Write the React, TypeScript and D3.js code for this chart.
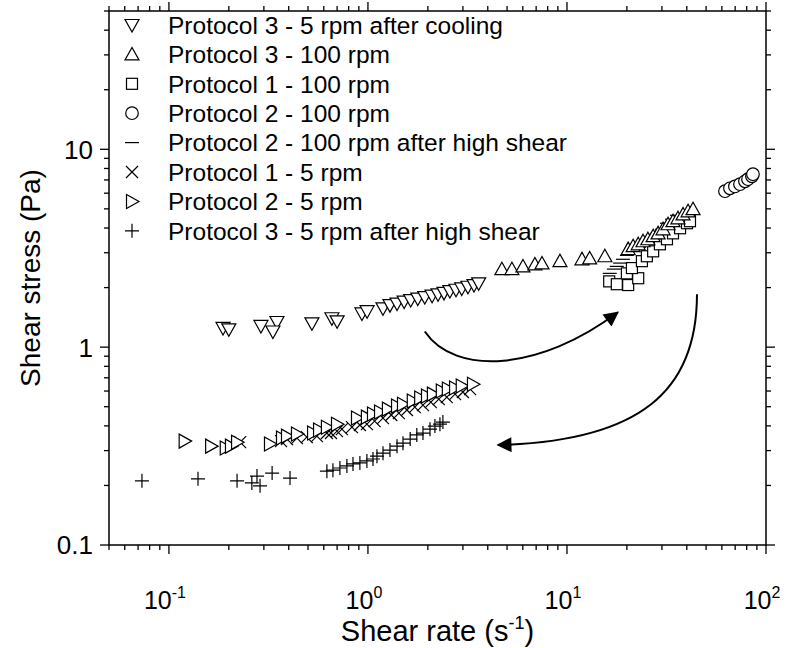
import React from "react";
import * as d3 from "d3";

// ---- data (shear rate [1/s], shear stress [Pa]) ----
const p3CoolX = [0.187, 0.2, 0.29, 0.349, 0.333, 0.523, 0.659, 0.7, 0.933, 0.99, 1.19, 1.29, 1.4, 1.52, 1.64, 1.78, 1.93, 2.1, 2.25, 2.41, 2.58, 2.77, 2.96, 3.18, 3.41, 3.6];
const p3CoolY = [1.25, 1.23, 1.28, 1.34, 1.2, 1.32, 1.4, 1.35, 1.48, 1.52, 1.57, 1.63, 1.66, 1.7, 1.73, 1.76, 1.79, 1.82, 1.85, 1.88, 1.92, 1.95, 1.98, 2.02, 2.06, 2.1];

const p3HighX = [4.71, 5.29, 6.01, 6.9, 7.49, 9.22, 11.9, 13.0, 15.5, 20.3, 21.5, 22.8, 24.1, 25.5, 27.1, 28.7, 30.4, 32.2, 34.1, 36.1, 38.3, 40.6, 43.0];
const p3HighY = [2.48, 2.48, 2.56, 2.62, 2.65, 2.72, 2.78, 2.81, 2.88, 3.13, 3.24, 3.31, 3.43, 3.51, 3.64, 3.76, 3.94, 4.18, 4.33, 4.48, 4.69, 4.86, 4.98];

const p1HighX = [16.3, 17.8, 20.3, 22.8, 20.0, 21.2, 23.8, 25.2, 27.1, 29.3, 31.8, 34.1, 37.0, 40.1, 41.5];
const p1HighY = [2.15, 2.08, 2.06, 2.23, 2.36, 2.51, 2.72, 2.88, 3.05, 3.31, 3.51, 3.76, 3.99, 4.23, 4.33];

const p2HighX = [62.2, 65.9, 69.8, 74.0, 78.4, 81.2, 85.0, 86.0];
const p2HighY = [6.14, 6.35, 6.49, 6.66, 6.89, 7.06, 7.3, 7.48];

const p2HighShearX = [16.4, 17.2, 17.8, 18.5, 19.1, 20.0, 21.2, 23.0, 23.8, 25.2, 26.7, 28.3, 30.0, 31.8, 33.7, 35.7];
const p2HighShearY = [2.36, 2.48, 2.56, 2.66, 2.78, 2.91, 3.05, 3.2, 3.31, 3.43, 3.59, 3.76, 3.94, 4.23, 4.43, 4.64];

const p1LowX = [0.228, 0.366, 0.392, 0.44, 0.493, 0.554, 0.622, 0.652, 0.699, 0.74, 0.831, 0.911, 0.988, 1.08, 1.19, 1.31, 1.43, 1.57, 1.72, 1.89, 2.07, 2.27, 2.49, 2.74, 3.0, 3.26];
const p1LowY = [0.331, 0.335, 0.343, 0.347, 0.351, 0.355, 0.368, 0.368, 0.376, 0.385, 0.394, 0.404, 0.408, 0.423, 0.438, 0.454, 0.464, 0.481, 0.498, 0.509, 0.527, 0.546, 0.559, 0.579, 0.593, 0.614];

const p2LowX = [0.12, 0.163, 0.193, 0.205, 0.22, 0.322, 0.37, 0.392, 0.44, 0.53, 0.568, 0.622, 0.699, 0.881, 0.988, 1.06, 1.15, 1.26, 1.4, 1.5, 1.68, 1.83, 1.98, 2.12, 2.35, 2.52, 2.74, 2.96, 3.37];
const p2LowY = [0.335, 0.316, 0.309, 0.316, 0.331, 0.324, 0.347, 0.355, 0.364, 0.368, 0.381, 0.394, 0.408, 0.438, 0.443, 0.459, 0.47, 0.486, 0.504, 0.515, 0.534, 0.553, 0.566, 0.579, 0.6, 0.614, 0.621, 0.636, 0.65];

const p3LowShearX = [0.0732, 0.14, 0.22, 0.261, 0.277, 0.287, 0.33, 0.406, 0.622, 0.667, 0.723, 0.784, 0.841, 0.911, 0.988, 1.06, 1.11, 1.19, 1.29, 1.4, 1.5, 1.63, 1.76, 1.89, 2.05, 2.17, 2.3, 2.38];
const p3LowShearY = [0.211, 0.216, 0.211, 0.206, 0.223, 0.199, 0.231, 0.218, 0.236, 0.239, 0.245, 0.251, 0.257, 0.26, 0.266, 0.272, 0.281, 0.291, 0.302, 0.316, 0.327, 0.343, 0.36, 0.368, 0.385, 0.399, 0.408, 0.418];

const legendLabels = [
  "Protocol 3 - 5 rpm after cooling",
  "Protocol 3 - 100 rpm",
  "Protocol 1 - 100 rpm",
  "Protocol 2 - 100 rpm",
  "Protocol 2 - 100 rpm after high shear",
  "Protocol 1 - 5 rpm",
  "Protocol 2 - 5 rpm",
  "Protocol 3 - 5 rpm after high shear",
];
const legendSymbols = ["down", "up", "square", "circle", "dash", "cross", "right", "plus"];

const xMajorTicks = [0.1, 1, 10, 100];
const xExponents = ["-1", "0", "1", "2"];
const yMajorTicks = [0.1, 1, 10];
const yTickLabels = ["0.1", "1", "10"];

// annotation arrows (cubic bezier control points in data units)
const arrowUp = [[1.93, 1.2], [2.74, 0.714], [7.31, 0.757], [18.0, 1.5]];
const arrowDown = [[45.0, 1.853], [45.0, 0.6], [23.3, 0.335], [4.5, 0.32]];

const W = 788;
const H = 648;
const M = { left: 109, right: 766, top: 11, bottom: 545 };
const FONT = "'Liberation Sans', Arial, sans-serif";

function Marker({ kind, x, y }: { kind: string; x: number; y: number }) {
  const s = { stroke: "#000", strokeWidth: 1.2, fill: "#fff" } as const;
  const t = `translate(${x},${y})`;
  switch (kind) {
    case "down":
      return <path transform={t} d="M-7,-5.5L7,-5.5L0,7Z" {...s} />;
    case "up":
      return <path transform={t} d="M-7,5.5L7,5.5L0,-7Z" {...s} />;
    case "square":
      return <rect transform={t} x={-5.5} y={-5.5} width={11} height={11} {...s} />;
    case "circle":
      return <circle transform={t} r={6.3} {...s} />;
    case "dash":
      return <path transform={t} d="M-7,0L7,0" {...s} fill="none" />;
    case "cross":
      return <path transform={t} d="M-6,-6L6,6M-6,6L6,-6" {...s} fill="none" />;
    case "right":
      return <path transform={t} d="M-5.5,-7L-5.5,7L7,0Z" {...s} />;
    case "plus":
      return <path transform={t} d="M-7,0L7,0M0,-7L0,7" {...s} fill="none" />;
    default:
      return null;
  }
}

export default function App() {
  const x = d3.scaleLog().domain([0.05, 100]).range([M.left, M.right]);
  const y = d3.scaleLog().domain([0.1, 50]).range([M.bottom, M.top]);

  const series: { kind: string; xs: number[]; ys: number[] }[] = [
    { kind: "square", xs: p1HighX, ys: p1HighY },
    { kind: "circle", xs: p2HighX, ys: p2HighY },
    { kind: "dash", xs: p2HighShearX, ys: p2HighShearY },
    { kind: "up", xs: p3HighX, ys: p3HighY },
    { kind: "cross", xs: p1LowX, ys: p1LowY },
    { kind: "right", xs: p2LowX, ys: p2LowY },
    { kind: "plus", xs: p3LowShearX, ys: p3LowShearY },
    { kind: "down", xs: p3CoolX, ys: p3CoolY },
  ];

  const xTicks = x.ticks();
  const yTicks = y.ticks();
  const isMajor = (v: number) => Math.abs(Math.log10(v) - Math.round(Math.log10(v))) < 1e-6;

  const bez = (pts: number[][]) => {
    const p = pts.map(([a, b]) => [x(a), y(b)]);
    return `M${p[0][0]},${p[0][1]}C${p[1][0]},${p[1][1]} ${p[2][0]},${p[2][1]} ${p[3][0]},${p[3][1]}`;
  };

  return (
    <svg width={W} height={H} style={{ position: "absolute", left: 0, top: 0, background: "#fff" }} fontFamily={FONT}>
      <defs>
        <marker id="ah" viewBox="0 0 10 10" refX={9} refY={5} markerWidth={18} markerHeight={15} markerUnits="userSpaceOnUse" orient="auto">
          <path d="M0,0L10,5L0,10Z" fill="#000" />
        </marker>
      </defs>
      <rect width={W} height={H} fill="#fff" />

      {/* ticks */}
      {xTicks.map((v, i) => {
        const L = isMajor(v) ? 9 : 5;
        const px = x(v);
        return (
          <g key={"xt" + i} stroke="#000" strokeWidth={1.3}>
            <line x1={px} x2={px} y1={M.bottom} y2={M.bottom + L} />
            <line x1={px} x2={px} y1={M.top} y2={M.top - L} />
          </g>
        );
      })}
      {yTicks.map((v, i) => {
        const L = isMajor(v) ? 9 : 5;
        const py = y(v);
        return (
          <g key={"yt" + i} stroke="#000" strokeWidth={1.3}>
            <line y1={py} y2={py} x1={M.left} x2={M.left - L} />
            <line y1={py} y2={py} x1={M.right} x2={M.right + L} />
          </g>
        );
      })}

      {/* tick labels */}
      {xMajorTicks.map((v, i) => (
        <text key={"xl" + i} x={x(v) - 4} y={609} fontSize={25} textAnchor="middle">
          10<tspan fontSize={16} dy={-11}>{xExponents[i]}</tspan>
        </text>
      ))}
      {yMajorTicks.map((v, i) => (
        <text key={"yl" + i} x={M.left - 16} y={y(v)} dy="0.36em" fontSize={26} textAnchor="end">
          {yTickLabels[i]}
        </text>
      ))}

      {/* axis titles */}
      <text x={(M.left + M.right) / 2} y={641} fontSize={29} textAnchor="middle">
        Shear rate (s<tspan fontSize={18} dy={-12}>-1</tspan>
        <tspan dy={12}>)</tspan>
      </text>
      <text transform={`translate(40,${(M.top + M.bottom) / 2}) rotate(-90)`} fontSize={28} textAnchor="middle">
        Shear stress (Pa)
      </text>

      {/* data */}
      {series.map((s, si) => (
        <g key={"s" + si}>
          {s.xs.map((xv, i) => (
            <Marker key={i} kind={s.kind} x={x(xv)} y={y(s.ys[i])} />
          ))}
        </g>
      ))}

      {/* arrows */}
      <path d={bez(arrowUp)} fill="none" stroke="#000" strokeWidth={2} markerEnd="url(#ah)" />
      <path d={bez(arrowDown)} fill="none" stroke="#000" strokeWidth={2} markerEnd="url(#ah)" />

      {/* frame */}
      <rect x={M.left} y={M.top} width={M.right - M.left} height={M.bottom - M.top} fill="none" stroke="#000" strokeWidth={1.5} />

      {/* legend */}
      {legendLabels.map((lab, i) => {
        const ly = 25 + i * 29.4;
        return (
          <g key={"lg" + i}>
            <Marker kind={legendSymbols[i]} x={132} y={ly} />
            <text x={168} y={ly} dy="0.36em" fontSize={24.5}>
              {lab}
            </text>
          </g>
        );
      })}
    </svg>
  );
}
